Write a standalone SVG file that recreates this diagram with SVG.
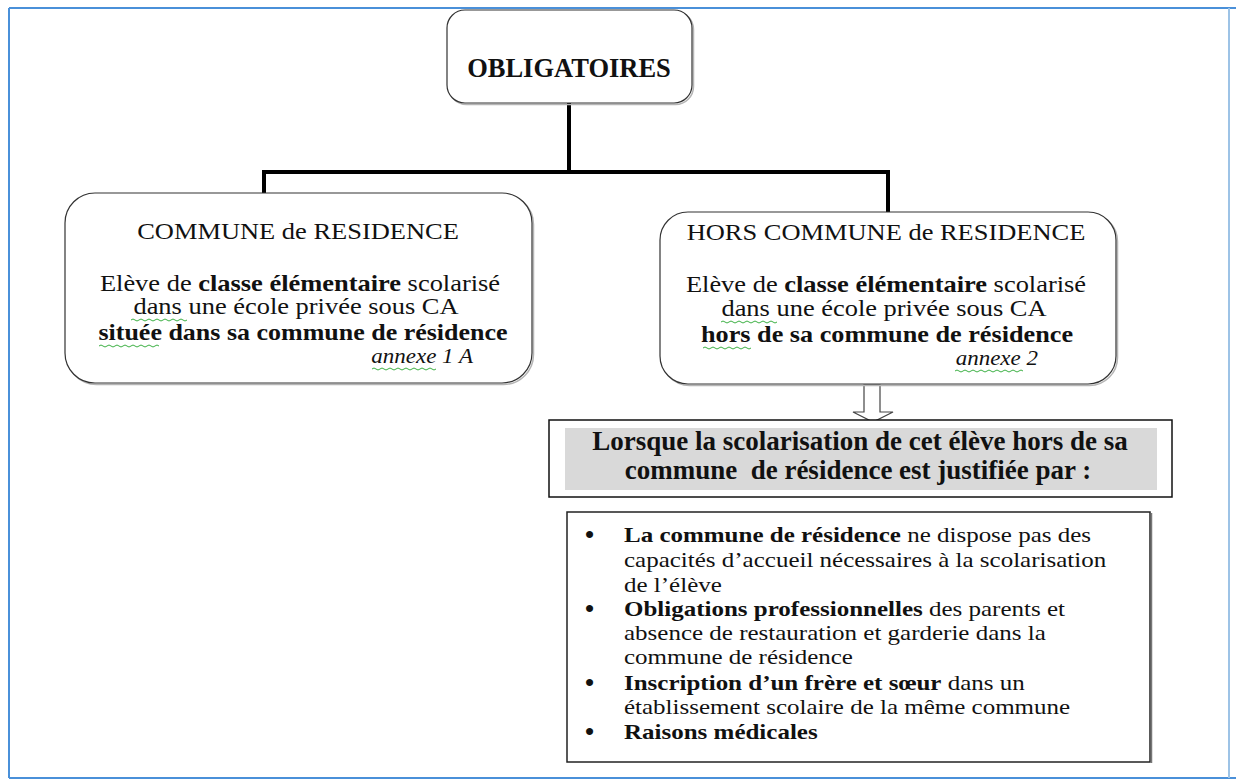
<svg xmlns="http://www.w3.org/2000/svg" width="1236" height="781" viewBox="0 0 1236 781">
<style>
.t{font-family:"Liberation Serif","Times New Roman",serif;fill:#111;}
.b{font-weight:bold;}
.i{font-style:italic;}
.box{fill:#fff;stroke:#333;stroke-width:1.2;}
.shadow{fill:none;stroke:#b5b5b5;stroke-width:1.5;}
.sq{fill:none;stroke:#3cb043;stroke-width:1;}
.con{fill:none;stroke:#000;stroke-width:4;stroke-linejoin:miter;}
</style>
<rect width="1236" height="781" fill="#fff"/>
<g id="frame">
<line x1="9" y1="8" x2="1236" y2="8" stroke="#4a90d9" stroke-width="2"/>
<line x1="9" y1="778" x2="1236" y2="778" stroke="#4a90d9" stroke-width="2"/>
<line x1="9" y1="8" x2="9" y2="778" stroke="#4a90d9" stroke-width="2"/>
<line x1="1229" y1="8" x2="1229" y2="778" stroke="#9dc3e6" stroke-width="2"/>
</g>
<g id="connectors">
<path class="con" d="M569,103 V172 M264,193 V172 H888 V212"/>
<polygon points="864,385 880,385 880,412 893,412 873,422 853,412 864,412" fill="#fff" stroke="#444" stroke-width="1.2"/>
</g>
<g id="obligatoires">
<rect class="shadow" x="448.5" y="11.5" width="245" height="93" rx="18"/>
<rect class="box" x="447" y="10" width="245" height="93" rx="18"/>
<text class="t b" x="569" y="77" font-size="26.5" text-anchor="middle">OBLIGATOIRES</text>
</g>
<g id="commune">
<rect class="shadow" x="66.5" y="194.5" width="467" height="190" rx="30"/>
<rect class="box" x="65" y="193" width="467" height="190" rx="30"/>
<text class="t" transform="translate(298,239) scale(1.15,1)" font-size="23" text-anchor="middle">COMMUNE de RESIDENCE</text>
<text class="t" transform="translate(300,291) scale(1.15,1)" font-size="23" text-anchor="middle">Elève de <tspan class="b">classe élémentaire</tspan> scolarisé</text>
<text class="t" transform="translate(296,314) scale(1.15,1)" font-size="23" text-anchor="middle">dans une école privée sous CA</text>
<text class="t b" transform="translate(303,340) scale(1.13,1)" font-size="23" text-anchor="middle">située dans sa commune de résidence</text>
<text class="t i" transform="translate(473,363) scale(1.15,1)" font-size="20" text-anchor="end">annexe 1 A</text>
<path class="sq" d="M131,320 q2,-2 4,0 t4,0 t4,0 t4,0 t4,0 t4,0 t4,0 t4,0 t4,0 t4,0 t4,0 t4,0 t4,0 t4,0"/>
<path class="sq" d="M99,346 q2,-2 4,0 t4,0 t4,0 t4,0 t4,0 t4,0 t4,0 t4,0 t4,0 t4,0 t4,0 t4,0 t4,0 t4,0 t4,0"/>
<path class="sq" d="M372,369 q2,-2 4,0 t4,0 t4,0 t4,0 t4,0 t4,0 t4,0 t4,0 t4,0 t4,0 t4,0 t4,0 t4,0 t4,0 t4,0 t4,0"/>
</g>
<g id="hors-commune">
<rect class="shadow" x="661.5" y="213.5" width="456" height="172" rx="28"/>
<rect class="box" x="660" y="212" width="456" height="172" rx="28"/>
<text class="t" transform="translate(886,240) scale(1.15,1)" font-size="23" text-anchor="middle">HORS COMMUNE de RESIDENCE</text>
<text class="t" transform="translate(886,292) scale(1.15,1)" font-size="23" text-anchor="middle">Elève de <tspan class="b">classe élémentaire</tspan> scolarisé</text>
<text class="t" transform="translate(884,316) scale(1.15,1)" font-size="23" text-anchor="middle">dans une école privée sous CA</text>
<text class="t b" transform="translate(887,342) scale(1.14,1)" font-size="23" text-anchor="middle">hors de sa commune de résidence</text>
<text class="t i" transform="translate(1038,365) scale(1.15,1)" font-size="20" text-anchor="end">annexe 2</text>
<path class="sq" d="M721,322 q2,-2 4,0 t4,0 t4,0 t4,0 t4,0 t4,0 t4,0 t4,0 t4,0 t4,0 t4,0 t4,0 t4,0 t4,0"/>
<path class="sq" d="M703,348 q2,-2 4,0 t4,0 t4,0 t4,0 t4,0 t4,0 t4,0 t4,0 t4,0 t4,0 t4,0 t4,0"/>
<path class="sq" d="M955,371 q2,-2 4,0 t4,0 t4,0 t4,0 t4,0 t4,0 t4,0 t4,0 t4,0 t4,0 t4,0 t4,0 t4,0 t4,0 t4,0 t4,0 t4,0"/>
</g>
<g id="justification">
<rect x="549" y="420" width="623" height="77" fill="#fff" stroke="#111" stroke-width="1.5"/>
<rect x="565" y="428" width="592" height="62" fill="#d9d9d9"/>
<text class="t b" x="860" y="450" font-size="27" text-anchor="middle">Lorsque la scolarisation de cet élève hors de sa</text>
<text class="t b" x="858" y="479" font-size="27" text-anchor="middle" xml:space="preserve">commune  de résidence est justifiée par :</text>
</g>
<g id="raisons">
<rect x="567" y="512" width="583" height="250" fill="#fff" stroke="#222" stroke-width="1.5"/>
<line x1="1151.5" y1="513" x2="1151.5" y2="763" stroke="#777" stroke-width="1.5"/>
<g class="t b" font-size="26">
<text x="585" y="543">•</text>
<text x="585" y="617">•</text>
<text x="585" y="691">•</text>
<text x="585" y="740">•</text>
</g>
<g class="t" font-size="21">
<text transform="translate(624,542) scale(1.19,1)"><tspan class="b">La commune de résidence</tspan> ne dispose pas des</text>
<text transform="translate(624,567) scale(1.19,1)">capacités d’accueil nécessaires à la scolarisation</text>
<text transform="translate(624,592) scale(1.19,1)">de l’élève</text>
<text transform="translate(624,616) scale(1.19,1)"><tspan class="b">Obligations professionnelles</tspan> des parents et</text>
<text transform="translate(624,640) scale(1.19,1)">absence de restauration et garderie dans la</text>
<text transform="translate(624,664) scale(1.19,1)">commune de résidence</text>
<text transform="translate(624,690) scale(1.19,1)"><tspan class="b">Inscription d’un frère et sœur</tspan> dans un</text>
<text transform="translate(624,714) scale(1.19,1)">établissement scolaire de la même commune</text>
<text transform="translate(624,739) scale(1.19,1)"><tspan class="b">Raisons médicales</tspan></text>
</g>
</g>
</svg>
